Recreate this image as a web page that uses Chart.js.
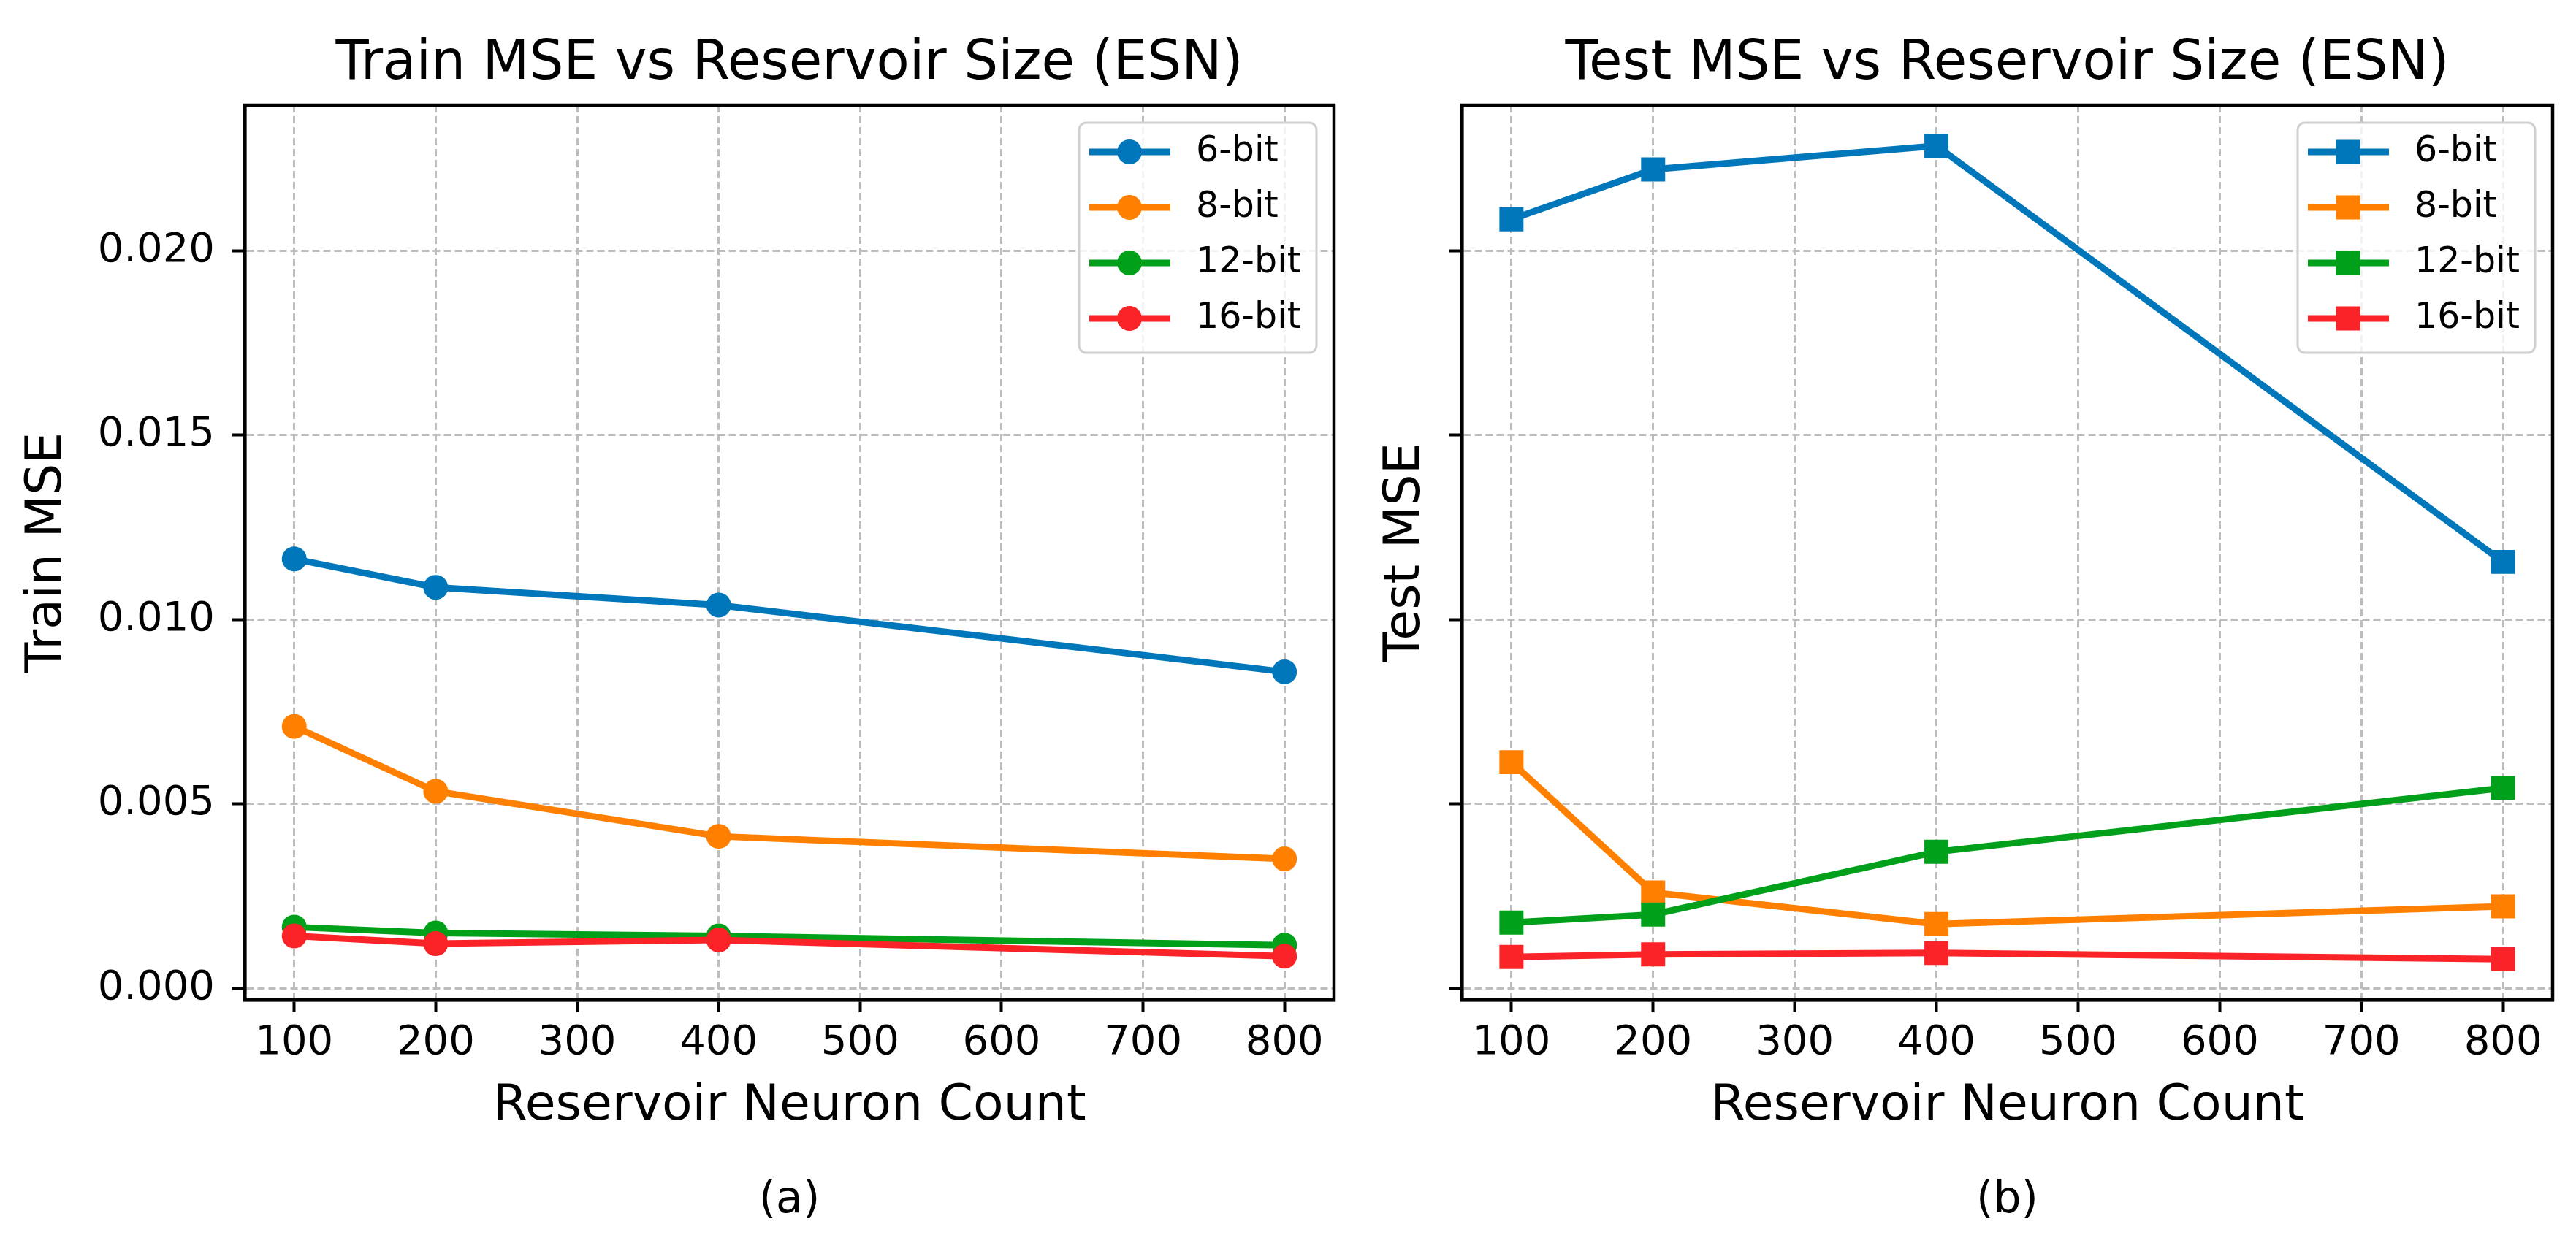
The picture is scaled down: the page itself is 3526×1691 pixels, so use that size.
<!DOCTYPE html>
<html lang="en">
<head>
<meta charset="UTF-8" />
<title>ESN MSE vs Reservoir Size</title>
<script src="https://cdn.jsdelivr.net/npm/chart.js@4.4.0/dist/chart.umd.min.js"></script>
<style>
  html, body { margin: 0; padding: 0; background: #fff; }
  body { width: 3526px; height: 1691px; position: relative; overflow: hidden; }
  .panel { position: absolute; top: 0; height: 1691px; }
  #panelA { left: 0; width: 1880px; }
  #panelB { left: 1880px; width: 1646px; }
</style>
</head>
<body>
<div class="panel" id="panelA"><canvas id="trainChart"></canvas></div>
<div class="panel" id="panelB"><canvas id="testChart"></canvas></div>

<script>
// ---- data ----
const neuronCounts = [100, 200, 400, 800];
const bitLabels = ['6-bit', '8-bit', '12-bit', '16-bit'];

const train6 = [0.01164, 0.01087, 0.01039, 0.00858];
const train8 = [0.00710, 0.00534, 0.00412, 0.00351];
const train12 = [0.00166, 0.00150, 0.00142, 0.00117];
const train16 = [0.00142, 0.00121, 0.00131, 0.00087];

const test6 = [0.02085, 0.02220, 0.02284, 0.01156];
const test8 = [0.00613, 0.00260, 0.00174, 0.00222];
const test12 = [0.00178, 0.00200, 0.00370, 0.00543];
const test16 = [0.00085, 0.00092, 0.00096, 0.00079];

const xTicks = [100, 200, 300, 400, 500, 600, 700, 800];
const yTicks = [0.000, 0.005, 0.010, 0.015, 0.020];

// ---- styling ----
const FONT = '"DejaVu Sans", sans-serif';
const lineColors = ['#0077bb', '#ff8000', '#00a01a', '#fa2328'];
Chart.defaults.font.family = FONT;
Chart.defaults.color = '#000';

// matplotlib-like 5% margins, shared y between the two panels
const allY = [].concat(train6, train8, train12, train16, test6, test8, test12, test16);
const yLo = Math.min(...allY), yHi = Math.max(...allY);
const yMin = yLo - 0.05 * (yHi - yLo);
const yMax = yHi + 0.05 * (yHi - yLo);
const xSpan = neuronCounts[neuronCounts.length - 1] - neuronCounts[0];
const xMin = neuronCounts[0] - 0.05 * xSpan;
const xMax = neuronCounts[neuronCounts.length - 1] + 0.05 * xSpan;

function makeDatasets(seriesList, pointStyle, radius) {
    return seriesList.map((vals, i) => ({
        label: bitLabels[i],
        data: neuronCounts.map((n, j) => ({ x: n, y: vals[j] })),
        borderColor: lineColors[i],
        backgroundColor: lineColors[i],
        borderWidth: 9,
        pointStyle: pointStyle,
        pointRadius: radius,
        pointHoverRadius: radius,
        pointBorderWidth: 0,
        tension: 0,
        order: seriesList.length - 1 - i  // later series drawn on top
    }));
}

function makeScales(cfg) {
    return {
        x: {
            type: 'linear',
            min: xMin,
            max: xMax,
            afterBuildTicks: s => { s.ticks = xTicks.map(v => ({ value: v })); },
            afterFit: s => { s.height = 322; },
            ticks: { font: { size: 56 }, color: '#000', padding: 9, autoSkip: false, maxRotation: 0,
                     callback: v => String(v) },
            grid: { color: '#bdbdbd', lineWidth: 3, tickColor: '#000', tickWidth: 4, tickLength: 17 },
            border: { display: true, color: '#000', width: 4.5, dash: [10, 5] },
            title: { display: true, text: 'Reservoir Neuron Count', color: '#000',
                     font: { size: 68 }, padding: { top: 0, bottom: 135 } }
        },
        y: {
            type: 'linear',
            min: yMin,
            max: yMax,
            afterBuildTicks: s => { s.ticks = yTicks.map(v => ({ value: v })); },
            afterFit: s => { s.width = cfg.yWidth; },
            ticks: { display: cfg.showYLabels, font: { size: 56 }, color: '#000', padding: 24,
                     callback: v => v.toFixed(3) },
            grid: { color: '#bdbdbd', lineWidth: 3, tickColor: '#000', tickWidth: 4, tickLength: 17 },
            border: { display: true, color: '#000', width: 4.5, dash: [10, 5] },
            title: { display: true, text: cfg.yTitle, color: '#000',
                     font: { size: 68 }, padding: { top: cfg.yTitlePad, bottom: 0 } }
        }
    };
}

// frame, title, caption and an in-axes legend drawn matplotlib style
const panelDecor = {
    id: 'panelDecor',
    afterDatasetsDraw(chart, args, opts) {
        const { ctx, chartArea: ca } = chart;
        ctx.save();
        ctx.strokeStyle = '#000';
        ctx.lineWidth = 4.5;
        ctx.strokeRect(ca.left, ca.top, ca.right - ca.left, ca.bottom - ca.top);
        ctx.restore();
    },
    afterDraw(chart, args, opts) {
        const { ctx, chartArea: ca } = chart;
        const cx = (ca.left + ca.right) / 2;
        ctx.save();
        ctx.fillStyle = '#000';
        ctx.textAlign = 'center';
        ctx.textBaseline = 'alphabetic';
        ctx.font = '74px ' + FONT;
        ctx.fillText(opts.title, cx, 108);
        ctx.font = '60px ' + FONT;
        ctx.fillText(opts.caption, cx, 1660);

        // legend box
        const w = 325, h = 315;
        const bx = ca.right - 24 - w, by = ca.top + 24;
        const r = 10;
        ctx.beginPath();
        ctx.moveTo(bx + r, by);
        ctx.arcTo(bx + w, by, bx + w, by + h, r);
        ctx.arcTo(bx + w, by + h, bx, by + h, r);
        ctx.arcTo(bx, by + h, bx, by, r);
        ctx.arcTo(bx, by, bx + w, by, r);
        ctx.closePath();
        ctx.fillStyle = 'rgba(255,255,255,0.8)';
        ctx.fill();
        ctx.strokeStyle = '#d0d0d0';
        ctx.lineWidth = 3;
        ctx.stroke();

        chart.data.datasets.forEach((ds, i) => {
            const ry = by + 40 + i * 76;
            ctx.strokeStyle = ds.borderColor;
            ctx.fillStyle = ds.borderColor;
            ctx.lineWidth = 9;
            ctx.beginPath();
            ctx.moveTo(bx + 14, ry);
            ctx.lineTo(bx + 125, ry);
            ctx.stroke();
            const mx = bx + 69;
            ctx.beginPath();
            if (ds.pointStyle === 'rect') {
                const half = ds.pointRadius * Math.SQRT1_2;
                ctx.rect(mx - half, ry - half, 2 * half, 2 * half);
            } else {
                ctx.arc(mx, ry, ds.pointRadius, 0, Math.PI * 2);
            }
            ctx.fill();
            ctx.fillStyle = '#000';
            ctx.font = '49px ' + FONT;
            ctx.textAlign = 'left';
            ctx.textBaseline = 'middle';
            ctx.fillText(ds.label, bx + 160, ry);
        });
        ctx.restore();
    }
};

function baseOptions(cfg) {
    return {
        responsive: true,
        maintainAspectRatio: false,
        animation: false,
        layout: { padding: { top: 144, right: cfg.rightPad, left: 0, bottom: 0 } },
        scales: makeScales(cfg),
        plugins: {
            legend: { display: false },
            tooltip: { enabled: false },
            panelDecor: { title: cfg.title, caption: cfg.caption }
        }
    };
}

new Chart(document.getElementById('trainChart'), {
    type: 'line',
    data: { datasets: makeDatasets([train6, train8, train12, train16], 'circle', 17) },
    options: baseOptions({ title: 'Train MSE vs Reservoir Size (ESN)', caption: '(a)', yTitle: 'Train MSE',
                           showYLabels: true, yWidth: 335, yTitlePad: 25, rightPad: 54 }),
    plugins: [panelDecor]
});

new Chart(document.getElementById('testChart'), {
    type: 'line',
    data: { datasets: makeDatasets([test6, test8, test12, test16], 'rect', 23.3) },
    options: baseOptions({ title: 'Test MSE vs Reservoir Size (ESN)', caption: '(b)', yTitle: 'Test MSE',
                           showYLabels: false, yWidth: 121, yTitlePad: 4, rightPad: 32 }),
    plugins: [panelDecor]
});
</script>
</body>
</html>
